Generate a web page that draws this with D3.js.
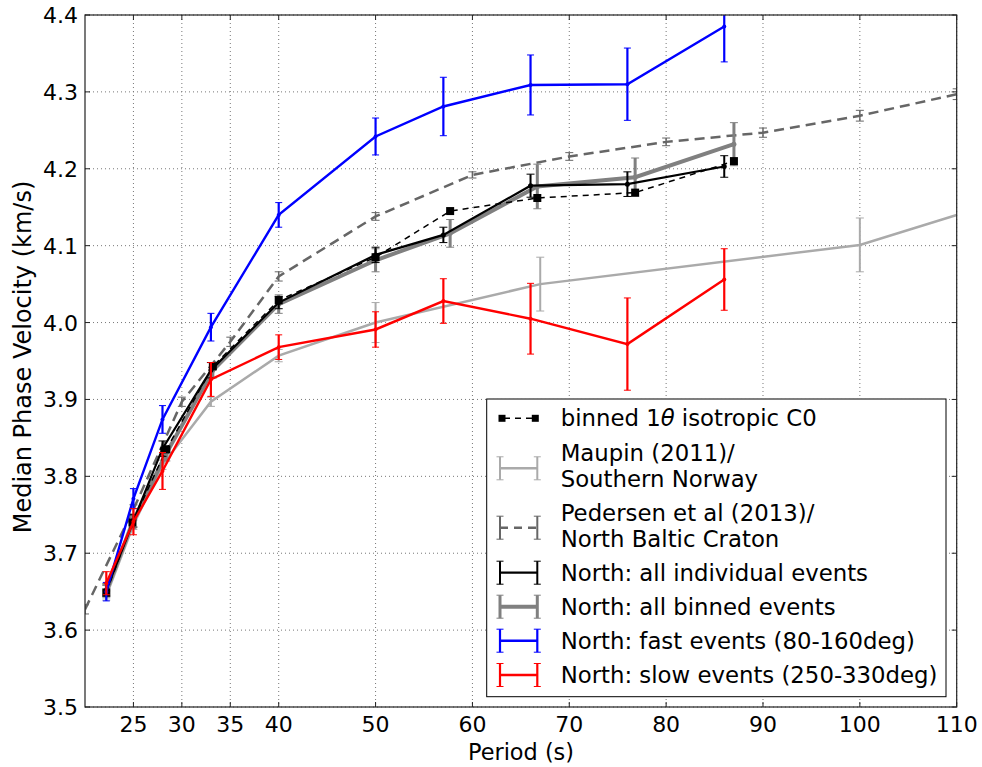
<!DOCTYPE html>
<html>
<head>
    <meta charset="utf-8">
    <script type="text/javascript" src="https://cdnjs.cloudflare.com/ajax/libs/d3/7.8.5/d3.min.js"></script>
    <style>
    body { margin:0; background:white; }
    text { font-family:"DejaVu Sans", sans-serif; fill:black; }
    .grid line { stroke:#777; stroke-width:1px; stroke-dasharray:1,3; }
    </style>
</head>
<body>
    <script>
    // period values (s)
    var indivPeriods = [22.2, 25, 28, 33, 40, 50, 57, 66, 76, 86];
    var binPeriods = [22.2, 24.9, 28.4, 33.2, 40, 50, 57.7, 66.7, 76.8, 87];
    var maupinPeriods = [22.2, 25, 28, 33, 40, 50, 67, 100, 110];
    var pedersenPeriods = [20, 25, 30, 35, 40, 50, 60, 70, 80, 90, 100, 110];

    // phase velocities (km/s) and error bars
    var indivVel = [3.652, 3.742, 3.836, 3.938, 4.026, 4.088, 4.114, 4.178, 4.180, 4.203];
    var indivErr = [0.008, 0.008, 0.010, 0.010, 0.008, 0.010, 0.010, 0.015, 0.016, 0.014];
    var binVel = [3.650, 3.740, 3.830, 3.938, 4.024, 4.081, 4.116, 4.177, 4.189, 4.232];
    var binErr = [0.008, 0.008, 0.010, 0.010, 0.012, 0.015, 0.018, 0.029, 0.025, 0.028];
    var isoVel = [3.649, 3.740, 3.835, 3.943, 4.029, 4.085, 4.145, 4.162, 4.169, 4.210];
    var fastVel = [3.650, 3.771, 3.874, 3.994, 4.140, 4.242, 4.281, 4.309, 4.310, 4.385];
    var fastErr = [0.012, 0.013, 0.018, 0.018, 0.016, 0.024, 0.038, 0.039, 0.047, 0.046];
    var slowVel = [3.661, 3.741, 3.807, 3.926, 3.968, 3.991, 4.028, 4.005, 3.972, 4.056];
    var slowErr = [0.015, 0.017, 0.024, 0.022, 0.016, 0.023, 0.029, 0.046, 0.060, 0.040];
    var maupinVel = [3.645, 3.737, 3.815, 3.897, 3.957, 4.000, 4.050, 4.101, 4.140];
    var maupinErr = [0.006, 0.006, 0.006, 0.006, 0.008, 0.026, 0.035, 0.035, 0];
    var pedersenVel = [3.627, 3.757, 3.897, 3.975, 4.060, 4.138, 4.192, 4.216, 4.235, 4.247, 4.269, 4.297];
    var pedersenErr = [0.006, 0.006, 0.006, 0.006, 0.006, 0.005, 0.004, 0.005, 0.005, 0.006, 0.007, 0.007];

    var xTicks = [25, 30, 35, 40, 50, 60, 70, 80, 90, 100, 110];
    var yTicks = [3.5, 3.6, 3.7, 3.8, 3.9, 4.0, 4.1, 4.2, 4.3, 4.4];

    var width = 982, height = 767;
    var mLeft = 85, mRight = 956.7, mTop = 15, mBottom = 707;

    var x = d3.scaleLinear().domain([20, 110]).range([mLeft, mRight]);
    var y = d3.scaleLinear().domain([3.5, 4.4]).range([mBottom, mTop]);

    var svg = d3.select('body').append('svg')
        .attr('width', width)
        .attr('height', height);

    svg.append('defs').append('clipPath').attr('id', 'plot')
        .append('rect')
        .attr('x', mLeft).attr('y', mTop)
        .attr('width', mRight - mLeft).attr('height', mBottom - mTop);

    // grid
    var grid = svg.append('g').attr('class', 'grid');
    grid.selectAll('line.gx').data(xTicks).enter().append('line')
        .attr('x1', d => x(d)).attr('x2', d => x(d))
        .attr('y1', mTop).attr('y2', mBottom);
    grid.selectAll('line.gy').data(yTicks).enter().append('line')
        .attr('x1', mLeft).attr('x2', mRight)
        .attr('y1', d => y(d)).attr('y2', d => y(d));

    var plot = svg.append('g').attr('clip-path', 'url(#plot)');

    function zip(ps, vs, es) {
        return ps.map(function(p, i) { return {p: p, v: vs[i], e: es ? es[i] : 0}; });
    }

    // draws a line with error bars, like matplotlib errorbar()
    function errorSeries(data, o) {
        var g = plot.append('g');
        var line = d3.line().x(d => x(d.p)).y(d => y(d.v));
        g.append('path').datum(data)
            .attr('d', line)
            .attr('fill', 'none')
            .attr('stroke', o.color)
            .attr('stroke-width', o.width)
            .attr('stroke-dasharray', o.dash || null);
        var bars = g.selectAll('g.bar').data(data.filter(d => d.e > 0)).enter().append('g');
        bars.append('line')
            .attr('x1', d => x(d.p)).attr('x2', d => x(d.p))
            .attr('y1', d => y(d.v - d.e)).attr('y2', d => y(d.v + d.e))
            .attr('stroke', o.barColor || o.color).attr('stroke-width', o.barWidth || 2);
        [-1, 1].forEach(function(s) {
            bars.append('line')
                .attr('x1', d => x(d.p) - o.cap).attr('x2', d => x(d.p) + o.cap)
                .attr('y1', d => y(d.v + s * d.e)).attr('y2', d => y(d.v + s * d.e))
                .attr('stroke', o.barColor || o.color).attr('stroke-width', 1);
        });
        if (o.dot) {
            g.selectAll('circle').data(data).enter().append('circle')
                .attr('cx', d => x(d.p)).attr('cy', d => y(d.v))
                .attr('r', o.dot).attr('fill', o.color);
        }
    }

    errorSeries(zip(maupinPeriods, maupinVel, maupinErr), {color:'#aaaaaa', width:2.5, cap:4, barWidth:2});
    errorSeries(zip(pedersenPeriods, pedersenVel, pedersenErr), {color:'#666666', width:2.5, dash:'10,6', cap:4, barWidth:1.5});
    errorSeries(zip(binPeriods, binVel, binErr), {color:'#808080', width:4, cap:4, barWidth:3, dot:2.5});
    errorSeries(zip(indivPeriods, indivVel, indivErr), {color:'black', width:2.2, cap:4, barWidth:2, dot:2.5});

    // binned 1-theta isotropic term: dashed black with squares
    var iso = zip(binPeriods, isoVel);
    plot.append('path').datum(iso)
        .attr('d', d3.line().x(d => x(d.p)).y(d => y(d.v)))
        .attr('fill', 'none').attr('stroke', 'black')
        .attr('stroke-width', 1.5).attr('stroke-dasharray', '6,5');
    plot.selectAll('rect.iso').data(iso).enter().append('rect')
        .attr('x', d => x(d.p) - 4).attr('y', d => y(d.v) - 4)
        .attr('width', 8).attr('height', 8).attr('fill', 'black');

    errorSeries(zip(indivPeriods, fastVel, fastErr), {color:'#0000ff', width:2.4, cap:3.5, barWidth:2.2, dot:2});
    errorSeries(zip(indivPeriods, slowVel, slowErr), {color:'#ff0000', width:2.4, cap:3.5, barWidth:2.2, dot:2});

    // axes frame + inward ticks
    var axes = svg.append('g');
    axes.append('rect')
        .attr('x', mLeft).attr('y', mTop)
        .attr('width', mRight - mLeft).attr('height', mBottom - mTop)
        .attr('fill', 'none').attr('stroke', '#222').attr('stroke-width', 1.2);
    axes.selectAll('line.xt').data(xTicks).enter().append('line')
        .attr('x1', d => x(d)).attr('x2', d => x(d))
        .attr('y1', mBottom).attr('y2', mBottom - 5)
        .attr('stroke', '#222');
    axes.selectAll('line.xt2').data(xTicks).enter().append('line')
        .attr('x1', d => x(d)).attr('x2', d => x(d))
        .attr('y1', mTop).attr('y2', mTop + 5)
        .attr('stroke', '#222');
    axes.selectAll('line.yt').data(yTicks).enter().append('line')
        .attr('x1', mLeft).attr('x2', mLeft + 5)
        .attr('y1', d => y(d)).attr('y2', d => y(d))
        .attr('stroke', '#222');
    axes.selectAll('line.yt2').data(yTicks).enter().append('line')
        .attr('x1', mRight).attr('x2', mRight - 5)
        .attr('y1', d => y(d)).attr('y2', d => y(d))
        .attr('stroke', '#222');

    axes.selectAll('text.xl').data(xTicks).enter().append('text')
        .attr('x', d => x(d)).attr('y', 732)
        .attr('text-anchor', 'middle').style('font-size', '22px')
        .text(d => d);
    axes.selectAll('text.yl').data(yTicks).enter().append('text')
        .attr('x', mLeft - 7).attr('y', d => y(d) + 8)
        .attr('text-anchor', 'end').style('font-size', '22px')
        .text(d => d.toFixed(1));

    svg.append('text')
        .attr('x', 521).attr('y', 760)
        .attr('text-anchor', 'middle').style('font-size', '22.4px')
        .text('Period (s)');
    svg.append('text')
        .attr('transform', 'translate(31,357) rotate(-90)')
        .attr('text-anchor', 'middle').style('font-size', '24px')
        .text('Median Phase Velocity (km/s)');

    // legend
    var leg = svg.append('g');
    leg.append('rect')
        .attr('x', 486.7).attr('y', 399)
        .attr('width', 946 - 486.7).attr('height', 696.7 - 399)
        .attr('fill', 'white').attr('stroke', 'black').attr('stroke-width', 1);

    var lx1 = 500, lx2 = 537.3, tx = 560.7;
    var legendItems = [
        {cy:418.3, lines:['binned 1θ isotropic C0'], base:[425.7], kind:'iso'},
        {cy:468.3, lines:['Maupin (2011)/', 'Southern Norway'], base:[461, 486.7], color:'#aaaaaa', width:2.5, barWidth:2},
        {cy:527.7, lines:['Pedersen et al (2013)/', 'North Baltic Craton'], base:[520.7, 546.7], color:'#666666', width:2.5, barWidth:2, dash:'8,6'},
        {cy:572.7, lines:['North: all individual events'], base:[580.7], color:'black', width:2.2, barWidth:2},
        {cy:606.7, lines:['North: all binned events'], base:[614.7], color:'#808080', width:4, barWidth:3},
        {cy:640.7, lines:['North: fast events (80-160deg)'], base:[648.7], color:'#0000ff', width:2.4, barWidth:2.2},
        {cy:675, lines:['North: slow events (250-330deg)'], base:[683], color:'#ff0000', width:2.4, barWidth:2.2}
    ];

    legendItems.forEach(function(it) {
        if (it.kind === 'iso') {
            leg.append('line')
                .attr('x1', lx1).attr('x2', lx2).attr('y1', it.cy).attr('y2', it.cy)
                .attr('stroke', 'black').attr('stroke-width', 1.5).attr('stroke-dasharray', '6,5')
                .attr('stroke-dashoffset', -4);
            [lx1 + 2, lx2 - 2].forEach(function(px) {
                leg.append('rect').attr('x', px - 3.5).attr('y', it.cy - 3.5)
                    .attr('width', 7).attr('height', 7).attr('fill', 'black');
            });
        } else {
            leg.append('line')
                .attr('x1', lx1).attr('x2', lx2).attr('y1', it.cy).attr('y2', it.cy)
                .attr('stroke', it.color).attr('stroke-width', it.width)
                .attr('stroke-dasharray', it.dash || null);
            [lx1, lx2].forEach(function(px) {
                leg.append('line')
                    .attr('x1', px).attr('x2', px).attr('y1', it.cy - 11.5).attr('y2', it.cy + 11.5)
                    .attr('stroke', it.color).attr('stroke-width', it.barWidth);
                [-11.5, 11.5].forEach(function(dy) {
                    leg.append('line')
                        .attr('x1', px - 3.5).attr('x2', px + 3.5)
                        .attr('y1', it.cy + dy).attr('y2', it.cy + dy)
                        .attr('stroke', it.color).attr('stroke-width', 1);
                });
            });
        }
        it.lines.forEach(function(t, i) {
            var txt = leg.append('text')
                .attr('x', tx).attr('y', it.base[i])
                .style('font-size', '22.8px');
            if (t.indexOf('θ') >= 0) {
                var parts = t.split('θ');
                txt.append('tspan').text(parts[0]);
                txt.append('tspan').style('font-style', 'italic').text('θ');
                txt.append('tspan').text(parts[1]);
            } else {
                txt.text(t);
            }
        });
    });
    </script>
</body>
</html>
